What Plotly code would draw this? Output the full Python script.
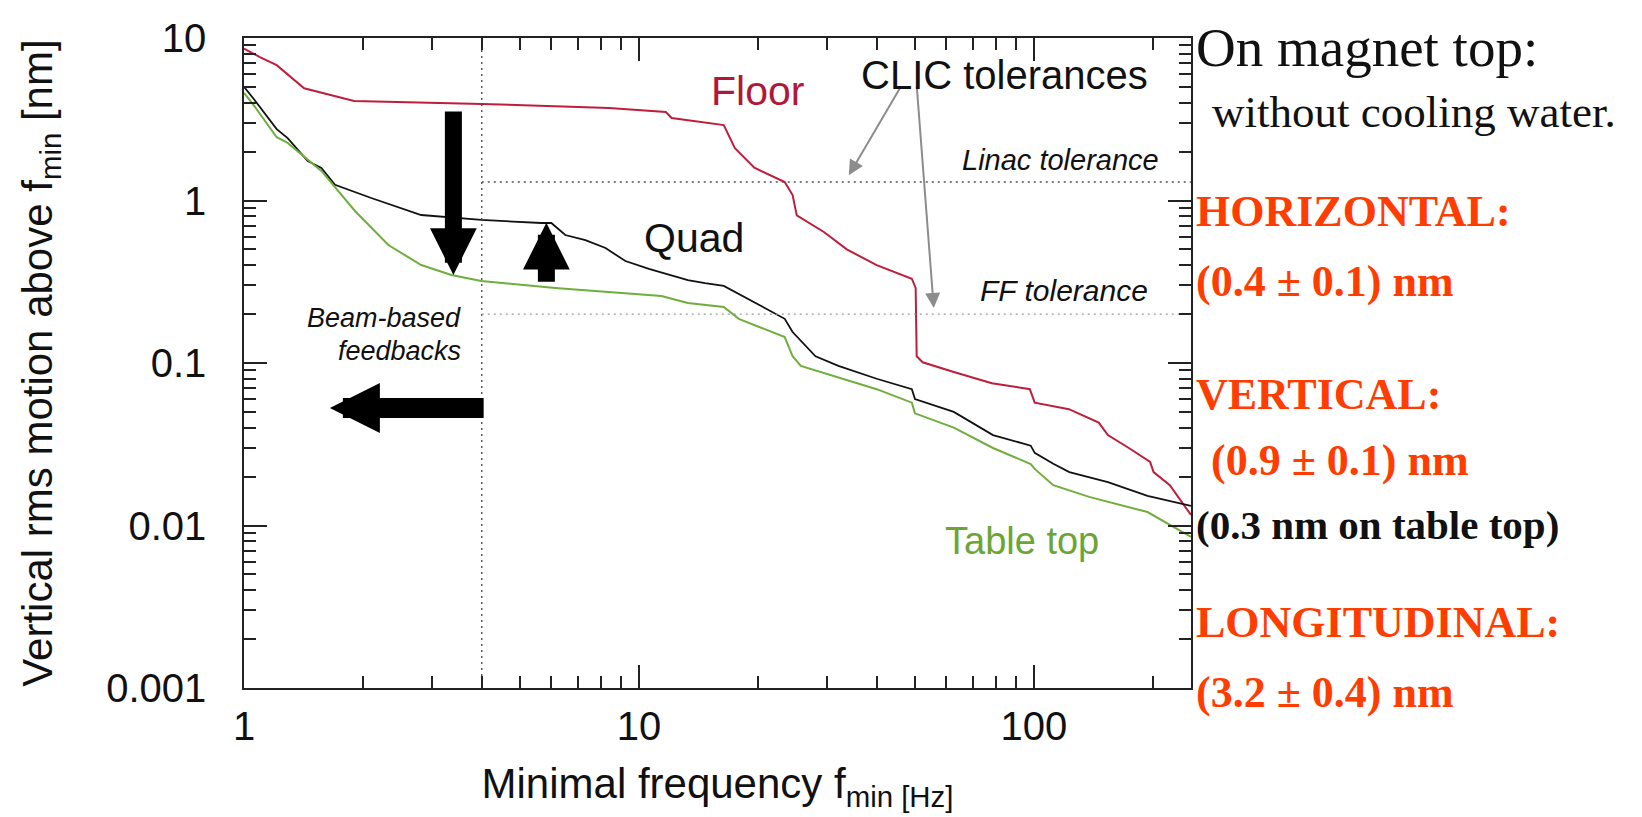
import math
import plotly.graph_objects as go

# ---------------- data ----------------
floor_f = [1.00, 1.10, 1.21, 1.42, 1.90, 4.0, 8.4, 10.6, 11.7, 12.1, 16.4, 17.5, 19.6, 23.4,
           24.5, 25.1, 29.4, 33.6, 40.0, 49.1, 50.2, 50.5, 52.3, 62.7, 78.3, 97.7, 100.5,
           122.7, 146, 154, 174, 197, 201, 221, 250]
floor_v = [8.6, 7.6, 6.8, 4.9, 4.1, 3.93, 3.71, 3.55, 3.50, 3.22, 2.91, 2.10, 1.59, 1.30,
           1.08, 0.81, 0.64, 0.50, 0.40, 0.33, 0.29, 0.11, 0.101, 0.088, 0.075, 0.069, 0.057,
           0.052, 0.043, 0.036, 0.030, 0.0246, 0.0213, 0.0177, 0.0116]

quad_f = [1.00, 1.06, 1.21, 1.29, 1.45, 1.57, 1.70, 2.10, 2.81, 3.99, 5.66, 6.0, 6.51, 7.32,
          8.23, 9.24, 10.6, 13.3, 14.7, 16.4, 20.4, 23.4, 24.5, 28.0, 32.0, 40.0, 49.1, 50.0,
          62.7, 78.8, 98.2, 100.5, 112, 123, 154, 194, 250]
quad_v = [5.0, 4.2, 2.75, 2.42, 1.75, 1.585, 1.25, 1.036, 0.814, 0.759, 0.727, 0.727, 0.613,
          0.571, 0.510, 0.424, 0.38, 0.324, 0.31, 0.298, 0.224, 0.187, 0.155, 0.110, 0.096,
          0.080, 0.069, 0.060, 0.050, 0.036, 0.031, 0.028, 0.024, 0.0213, 0.0185, 0.0152, 0.0132]

table_f = [1.00, 1.06, 1.21, 1.29, 1.57, 1.91, 2.32, 2.81, 3.35, 3.99, 6.14, 9.03, 11.4, 13.3,
           16.4, 17.9, 23.4, 24.5, 25.7, 40.0, 49.1, 50.0, 62.7, 78.8, 98.2, 100.5, 112, 138,
           194, 250]
table_v = [4.6, 3.84, 2.45, 2.26, 1.52, 0.862, 0.532, 0.401, 0.348, 0.320, 0.289, 0.270, 0.258,
           0.234, 0.221, 0.187, 0.1445, 0.110, 0.096, 0.069, 0.057, 0.049, 0.040, 0.030, 0.0239,
           0.0223, 0.0177, 0.0150, 0.0121, 0.0085]

x_range = [1, 250]
y_range = [0.001, 10]
x_tickvals = [1, 10, 100]
x_ticktext = ["1", "10", "100"]
y_tickvals = [0.001, 0.01, 0.1, 1, 10]
y_ticktext = ["0.001", "0.01", "0.1", "1", "10"]
x_minor = [2, 3, 4, 5, 6, 7, 8, 9, 20, 30, 40, 50, 60, 70, 80, 90, 200]
y_minor = [m * d for d in [0.001, 0.01, 0.1, 1] for m in [2, 3, 4, 5, 6, 7, 8, 9]]

feedback_freq = 4.0      # beam-based feedback limit [Hz]
linac_tol = 1.3          # nm
ff_tol = 0.2             # nm

# thick black arrows: (tail_f, tail_v, tip_f, tip_v)
arrow_down = (3.39, 3.6, 3.39, 0.348)
arrow_up = (5.83, 0.31, 5.83, 0.73)
arrow_left = (4.08, 0.0528, 1.65, 0.0528)
# grey pointer arrows from "CLIC tolerances"
arrow_linac = (46.3, 5.14, 34.0, 1.43)
arrow_ff = (50.5, 5.14, 55.8, 0.218)

# ---------------- figure ----------------
SANS = "Liberation Sans, Arial, Helvetica, sans-serif"
SERIF = "Liberation Serif, Times New Roman, serif"
RED_LINE = "#BE1E3C"
GREEN_LINE = "#6FAE3C"
ORANGE = "#FF3D00"
AX = "#222222"

PL, PT, PW, PH = 236, 30, 947, 650
W, H = 1642, 817


def px(X):
    return (X - PL) / PW


def py(Y):
    return (PT + PH - Y) / PH


fig = go.Figure()

fig.add_trace(go.Scatter(x=floor_f, y=floor_v, mode="lines", line=dict(color=RED_LINE, width=2),
                         name="Floor"))
fig.add_trace(go.Scatter(x=quad_f, y=quad_v, mode="lines", line=dict(color="#111111", width=1.8),
                         name="Quad"))
fig.add_trace(go.Scatter(x=table_f, y=table_v, mode="lines", line=dict(color=GREEN_LINE, width=2),
                         name="Table top"))

# reference lines
fig.add_trace(go.Scatter(x=[feedback_freq, feedback_freq], y=y_range, mode="lines",
                         line=dict(color="#444444", width=1.3, dash="2px,4px"), hoverinfo="skip"))
fig.add_trace(go.Scatter(x=[feedback_freq, x_range[1]], y=[linac_tol, linac_tol], mode="lines",
                         line=dict(color="#555555", width=1.3, dash="2px,4px"), hoverinfo="skip"))
fig.add_trace(go.Scatter(x=[feedback_freq, x_range[1]], y=[ff_tol, ff_tol], mode="lines",
                         line=dict(color="#9a9a9a", width=1.3, dash="2px,4px"), hoverinfo="skip"))

annotations = []


def arrow(spec, color, width, head, size):
    tf, tv, hf, hv = spec
    return dict(x=math.log10(hf), y=math.log10(hv), ax=math.log10(tf), ay=math.log10(tv),
                xref="x", yref="y", axref="x", ayref="y", text="", showarrow=True,
                arrowhead=head, arrowsize=size, arrowwidth=width, arrowcolor=color,
                standoff=0, startstandoff=0)


annotations.append(arrow(arrow_down, "black", 17, 2, 0.55))
annotations.append(arrow(arrow_up, "black", 17, 2, 0.55))
annotations.append(arrow(arrow_left, "black", 20, 2, 0.5))
annotations.append(arrow(arrow_linac, "#8c8c8c", 2, 2, 1.5))
annotations.append(arrow(arrow_ff, "#8c8c8c", 2, 2, 1.5))


def label(text, X, Y, size, color="#111111", family=SANS, xanchor="center"):
    return dict(text=text, x=px(X), y=py(Y), xref="paper", yref="paper", showarrow=False,
                xanchor=xanchor, yanchor="middle", font=dict(size=size, color=color, family=family))


annotations += [
    label("Floor", 749, 83, 41, "#B0183A"),
    label("CLIC tolerances", 996, 67, 40),
    label("<i>Linac tolerance</i>", 1153, 152, 29, xanchor="right"),
    label("<i>FF tolerance</i>", 1142, 282, 30, xanchor="right"),
    label("Quad", 686, 230, 41),
    label("<i>Beam-based</i>", 455, 310, 27, xanchor="right"),
    label("<i>feedbacks</i>", 455, 343, 27, xanchor="right"),
    label("Table top", 1014, 533, 38, "#6BA535"),
    label("On magnet top:", 1186, 39, 55, "#111111", SERIF, "left"),
    label("without cooling water.", 1202, 104, 45, "#111111", SERIF, "left"),
    label("<b>HORIZONTAL:</b>", 1186, 203, 44, ORANGE, SERIF, "left"),
    label("<b>(0.4 ± 0.1) nm</b>", 1186, 273, 44, ORANGE, SERIF, "left"),
    label("<b>VERTICAL:</b>", 1186, 386, 44, ORANGE, SERIF, "left"),
    label("<b>(0.9 ± 0.1) nm</b>", 1201, 452, 44, ORANGE, SERIF, "left"),
    label("<b>(0.3 nm on table top)</b>", 1186, 517, 41, "#111111", SERIF, "left"),
    label("<b>LONGITUDINAL:</b>", 1186, 614, 44, ORANGE, SERIF, "left"),
    label("<b>(3.2 ± 0.4) nm</b>", 1186, 684, 44, ORANGE, SERIF, "left"),
]

axis_common = dict(
    type="log", showline=True, linecolor=AX, linewidth=1.5, mirror="ticks",
    ticks="inside", ticklen=23, tickwidth=1.5, tickcolor=AX,
    tickfont=dict(size=40, family=SANS, color="#111111"),
    showgrid=False, zeroline=False, tickmode="array",
)

fig.update_layout(
    width=W, height=H,
    margin=dict(l=PL, r=W - PL - PW, t=PT, b=H - PT - PH, autoexpand=False),
    paper_bgcolor="white", plot_bgcolor="white",
    showlegend=False,
    font=dict(family=SANS, color="#111111"),
    xaxis=dict(
        **axis_common,
        range=[math.log10(x_range[0]), math.log10(x_range[1])],
        tickvals=x_tickvals, ticktext=x_ticktext,
        ticklabelstandoff=2,
        minor=dict(ticks="inside", ticklen=12, tickwidth=1.5, tickcolor=AX, tickvals=x_minor),
        title=dict(text="Minimal frequency f<sub>min [Hz]</sub>",
                   font=dict(size=42, family=SANS, color="#111111"), standoff=22),
    ),
    yaxis=dict(
        **axis_common,
        range=[math.log10(y_range[0]), math.log10(y_range[1])],
        tickvals=y_tickvals, ticktext=y_ticktext,
        ticklabelstandoff=28,
        minor=dict(ticks="inside", ticklen=12, tickwidth=1.5, tickcolor=AX, tickvals=y_minor),
        title=dict(text="Vertical rms motion above f<sub>min</sub> [nm]",
                   font=dict(size=42, family=SANS, color="#111111"), standoff=40),
    ),
    annotations=annotations,
)

fig.write_html("out.html")
